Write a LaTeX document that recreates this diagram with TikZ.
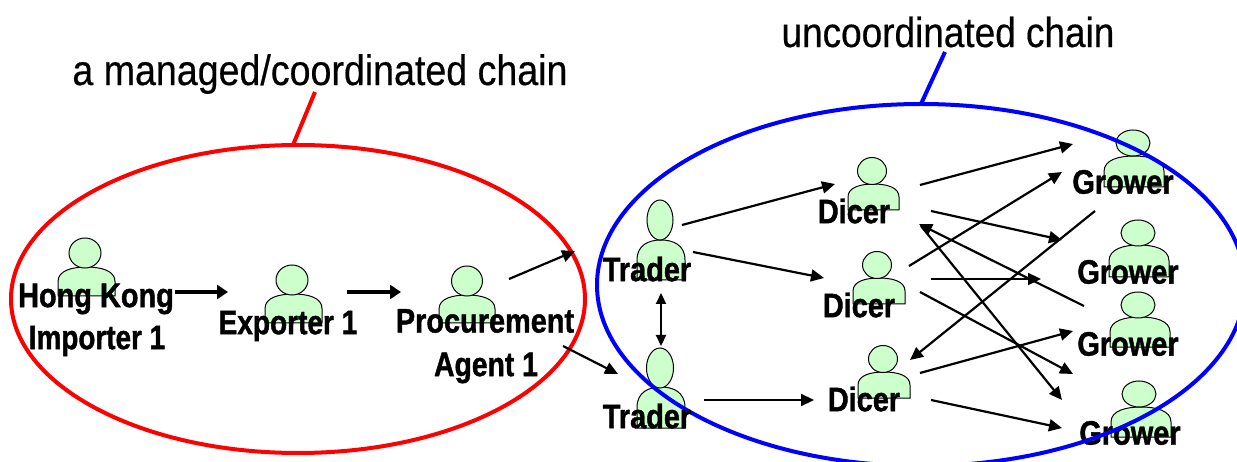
\documentclass[tikz,border=0pt]{standalone}
\usepackage{fontspec}
\setmainfont{Liberation Sans}
\newfontfamily\whofont[FakeStretch=0.85,FakeBold=1.2]{Liberation Sans Bold}
\newfontfamily\titlefont[FakeStretch=0.88,FakeBold=0.4]{Liberation Sans}
\usetikzlibrary{arrows.meta,shapes.geometric}
\tikzset{
  headshape/.style={ellipse,draw=black,fill=personfill,line width=1pt,inner sep=0pt},
  bodyshape/.style={draw=black,fill=personfill,line width=1pt},
  who/.style={inner sep=0pt,font=\whofont\fontsize{34}{34}\selectfont,text=black},
  title/.style={inner sep=0pt,font=\titlefont\fontsize{42}{42}\selectfont,text=black},
  link/.style={line width=2.2pt,-{Triangle[length=13pt,width=12pt]}},
  biglink/.style={line width=3.4pt,-{Triangle[length=11pt,width=14pt]}},
  redring/.style={draw=ringred,line width=4pt},
  bluering/.style={draw=ringblue,line width=4pt},
}
\definecolor{personfill}{RGB}{204,255,204}
\definecolor{ringred}{RGB}{255,0,0}
\definecolor{ringblue}{RGB}{0,0,255}
% name, head x, head y, head rx, head ry, body left, body right, body top, body bottom
\newcommand{\person}[9]{%
  \draw[bodyshape] (#6,#9) -- (#6,{#8+0.5*(#9-#8)})
    .. controls (#6,{#8+0.12*(#9-#8)}) and ({#6+0.25*(#7-#6)},#8) .. ({0.5*(#6+#7)},#8)
    .. controls ({#7-0.25*(#7-#6)},#8) and (#7,{#8+0.12*(#9-#8)}) .. (#7,{#8+0.5*(#9-#8)})
    -- (#7,#9) -- cycle;
  \node[headshape,minimum width={2*#4pt},minimum height={2*#5pt}] (#1) at (#2,#3) {};
}
\begin{document}
\begin{tikzpicture}[x=1pt,y=-1pt]
\useasboundingbox (0,0) rectangle (1237,462);
% red ring
\draw[redring] (298,299) ellipse [x radius=287,y radius=154];
\coordinate (redfoot) at (293,145);
\coordinate (redtop) at (315,92);
\draw[redring] (redfoot) -- (redtop);
% people
\person{hk}{85}{253}{16}{15}{58}{115}{267}{296}
\person{ex}{292}{280}{16}{15}{265}{322}{294}{323}
\person{pa}{467}{281}{15.5}{15}{439}{495}{295}{323}
\person{tr1}{660}{220}{13}{20}{637}{685}{240}{280}
\person{tr2}{660}{368}{13.5}{20}{637}{685}{387}{428}
\person{di1}{872}{171}{14.5}{13.5}{848}{899}{184}{210}
\person{di2}{877}{265}{14.5}{13.5}{853}{905}{278}{304}
\person{di3}{883}{359}{14.5}{13.5}{858}{910}{372}{398}
\person{gr1}{1133}{143}{17}{13}{1104}{1164}{156}{187}
\person{gr2}{1138}{233}{17}{13}{1109}{1169}{245}{277}
\person{gr3}{1138}{305}{17}{13}{1110}{1170}{317}{347}
\person{gr4}{1139}{394}{17}{13}{1111}{1171}{407}{437}
% labels under the blue ring
\node[who] (lgr1) at (1123,182) {Grower};
\node[who] (lgr4) at (1130,433) {Grower};
% blue ring
\draw[bluering] (921,285) ellipse [x radius=324,y radius=181];
\coordinate (bluefoot) at (921,104);
\coordinate (bluetop) at (945,52);
\draw[bluering] (bluefoot) -- (bluetop);
% labels
\node[title,font=\titlefont\fontsize{42.7}{42.7}\selectfont] (tred) at (320,74) {a managed/coordinated chain};
\node[title] (tblue) at (948,32) {uncoordinated chain};
\node[who] (lhk) at (96,299) {Hong Kong};
\node[who] (lim) at (97,341) {\scalebox{0.965}[1]{Importer 1}};
\node[who] (lex) at (288,326) {\scalebox{0.97}[1]{Exporter 1}};
\node[who] (lpa) at (485,321) {Procurement};
\node[who] (lag) at (486,368) {\scalebox{0.98}[1]{Agent 1}};
\node[who] (ltr1) at (647,269) {Trader};
\node[who] (ltr2) at (647,416) {Trader};
\node[who] (ldi1) at (854,211) {Dicer};
\node[who] (ldi2) at (859,305) {Dicer};
\node[who] (ldi3) at (864,399) {Dicer};
\node[who] (lgr2) at (1128,272) {Grower};
\node[who] (lgr3) at (1128,344) {Grower};
% connector ends
\foreach \n/\x/\y in {
  a/175/292, b/228/292, c/347/292, d/401/292,
  e/509/279, f/575/251, g/563/346, h/618/374,
  i/661/293, j/661/346,
  k/682/225, l/835/184, m/693/252, n/824/278, o/704/400, p/814/400,
  q/920/185, r/1073/144, s/909/266, t/1062/172, u/931/211, v/1062/240,
  w/1095/211, x/910/360, y/931/279, z/1041/279,
  aa/1084/306, ab/919/224, ac/921/226, ad/1062/400,
  ae/920/292, af/1073/374, ag/920/373, ah/1073/331, ai/931/400, aj/1062/428}
  {\coordinate (\n) at (\x,\y);}
\draw[biglink] (a) -- (b);
\draw[biglink] (c) -- (d);
\draw[link] (e) -- (f);
\draw[link] (g) -- (h);
\draw[link,{Triangle[length=11pt,width=10pt]}-{Triangle[length=11pt,width=10pt]}] (i) -- (j);
\draw[link] (k) -- (l);
\draw[link] (m) -- (n);
\draw[link] (o) -- (p);
\draw[link] (q) -- (r);
\draw[link] (s) -- (t);
\draw[link] (u) -- (v);
\draw[link] (w) -- (x);
\draw[link] (y) -- (z);
\draw[link] (aa) -- (ab);
\draw[link] (ac) -- (ad);
\draw[link] (ae) -- (af);
\draw[link] (ag) -- (ah);
\draw[link] (ai) -- (aj);
\end{tikzpicture}
\end{document}
